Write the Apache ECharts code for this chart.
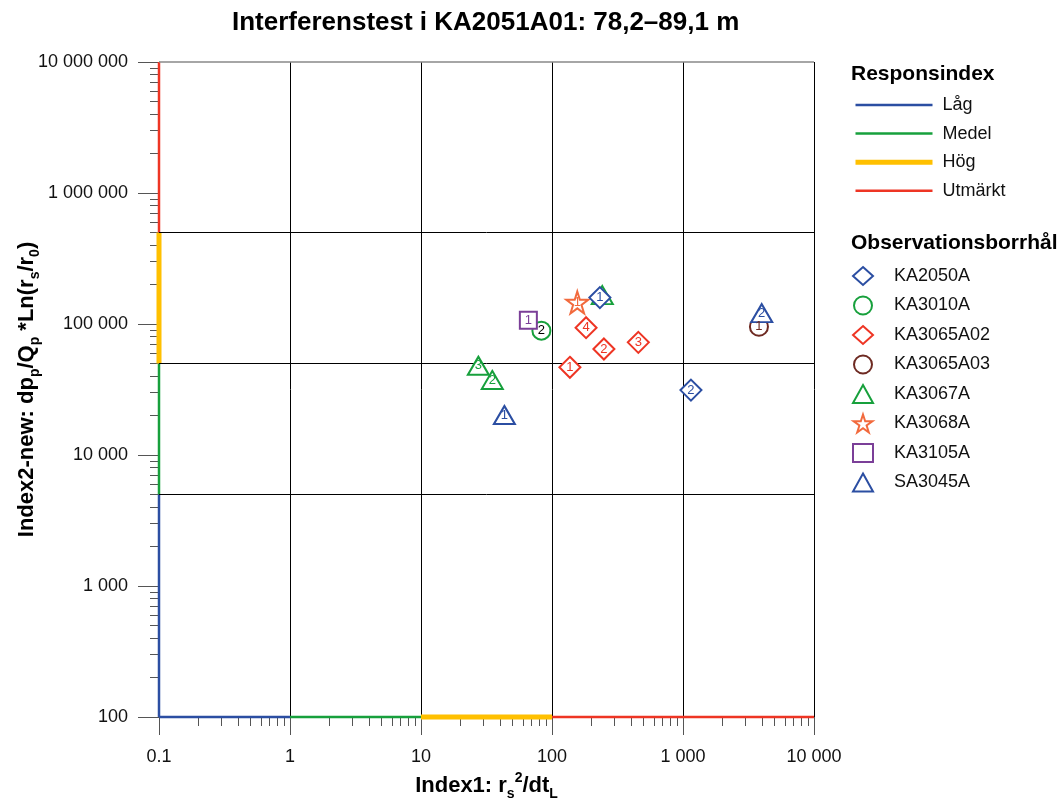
<!DOCTYPE html>
<html>
<head>
<meta charset="utf-8">
<script src="https://cdn.jsdelivr.net/npm/echarts@6/dist/echarts.min.js"></script>
<style>html,body{margin:0;padding:0;background:#fff}#c{width:1059px;height:801px}</style>
</head>
<body>
<div id="c"></div>
<script>
// ---- data ----
const titleText = 'Interferenstest i KA2051A01: 78,2–89,1 m';
const xTicks = [0.1, 1, 10, 100, 1000, 10000];
const yTicks = [100, 1000, 10000, 100000, 1000000, 10000000];
const classNames = ['Låg', 'Medel', 'Hög', 'Utmärkt'];
const classColors = ['#2B4EA2', '#17A03C', '#FFC000', '#EE3524'];
const classWidths = [2.5, 2.5, 5, 2.5];
const xBreaks = [0.1, 1, 10, 100, 10000];          // Index1 class limits
const yBreaks = [100, 5000, 50000, 500000, 10000000]; // Index2 class limits
const hLines = [5000, 50000, 500000];

const boreholes = ['KA2050A', 'KA3010A', 'KA3065A02', 'KA3065A03', 'KA3067A', 'KA3068A', 'KA3105A', 'SA3045A'];
const KA2050A   = [[232, 159000, '1'], [1150, 31300, '2']];
const KA3010A   = [[83, 89000, '2']];
const KA3065A02 = [[137, 46700, '1'], [249, 64400, '2'], [456, 72400, '3'], [182, 93700, '4']];
const KA3065A03 = [[3800, 95300, '1']];
const KA3067A   = [[242, 166000, '4'], [35, 37400, '2'], [27.4, 48000, '3']];
const KA3068A   = [[156, 146000, '1']];
const KA3105A   = [[66, 107000, '1']];
const SA3045A   = [[43.3, 20200, '1'], [3990, 121000, '2']];

// ---- styling ----
const FONT = 'Liberation Sans, Arial, Helvetica, sans-serif';
const star = 'path://M50,2 L61,36 L97,36 L68,57 L79,92 L50,71 L21,92 L32,57 L3,36 L39,36 Z';
const pointStyle = {
  KA2050A:   {data: KA2050A,   color: '#2B4EA2', symbol: 'diamond',  size: 21, label: '#2B4EA2', z: 6},
  KA3010A:   {data: KA3010A,   color: '#17A03C', symbol: 'circle',   size: 18, label: '#000000', z: 5},
  KA3065A02: {data: KA3065A02, color: '#EE3524', symbol: 'diamond',  size: 21, label: '#EE3524', z: 5},
  KA3065A03: {data: KA3065A03, color: '#6E2A22', symbol: 'circle',   size: 18, label: '#6E2A22', z: 5},
  KA3067A:   {data: KA3067A,   color: '#17A03C', symbol: 'triangle', size: [21, 18], label: '#17A03C', z: 5},
  KA3068A:   {data: KA3068A,   color: '#F26A3D', symbol: star,       size: 22, label: '#F26A3D', z: 5},
  KA3105A:   {data: KA3105A,   color: '#7B3F98', symbol: 'rect',     size: 17, label: '#7B3F98', z: 5},
  SA3045A:   {data: SA3045A,   color: '#2B4EA2', symbol: 'triangle', size: [21, 18], label: '#2B4EA2', z: 5}
};

function fmt(v) {
  v = Number(Number(v).toPrecision(6));
  if (v < 1) return String(v);
  return String(Math.round(v)).replace(/\B(?=(\d{3})+(?!\d))/g, ' ');
}
function minorLog(lo, hi) {
  const out = [];
  for (let d = lo; d < hi; d++) for (let k = 2; k <= 9; k++) out.push(d + Math.log10(k));
  return out;
}

const series = [];
classNames.forEach((n, i) => {
  const common = {
    name: n, type: 'line', symbol: 'none', clip: false, silent: true, z: 3,
    lineStyle: {color: classColors[i], width: classWidths[i]}, itemStyle: {color: 'rgba(0,0,0,0)', opacity: 0}
  };
  series.push(Object.assign({}, common, {data: [[xBreaks[0], yBreaks[i]], [xBreaks[0], yBreaks[i + 1]]]}));
  series.push(Object.assign({}, common, {data: [[xBreaks[i], yBreaks[0]], [xBreaks[i + 1], yBreaks[0]]]}));
});
series.push({
  type: 'line', data: [], silent: true, z: 1,
  markLine: {
    silent: true, symbol: 'none', label: {show: false},
    data: hLines.map(v => ({yAxis: v, lineStyle: {color: '#000', width: 1, type: 'solid'}}))
      .concat([{yAxis: yTicks[yTicks.length - 1], lineStyle: {color: '#888', width: 1.5, type: 'solid'}}])
  }
});
boreholes.forEach(b => {
  const s = pointStyle[b];
  series.push({
    name: b, type: 'scatter', data: s.data, symbol: s.symbol, symbolSize: s.size, z: s.z,
    itemStyle: {color: '#ffffff', borderColor: s.color, borderWidth: 2, opacity: 1},
    label: {show: true, position: 'inside', formatter: p => p.value[2], color: s.label, fontSize: 13, fontFamily: FONT}
  });
});

const nameRich = {
  b: {fontSize: 22, fontWeight: 'bold', lineHeight: 30, verticalAlign: 'middle', fontFamily: FONT, color: '#000'},
  sub: {fontSize: 14, fontWeight: 'bold', lineHeight: 14, verticalAlign: 'bottom', fontFamily: FONT, color: '#000'},
  sup: {fontSize: 14, fontWeight: 'bold', lineHeight: 14, verticalAlign: 'top', fontFamily: FONT, color: '#000'}
};

const chart = echarts.init(document.getElementById('c'), null, {renderer: 'canvas'});
chart.setOption({
  animation: false,
  backgroundColor: '#ffffff',
  textStyle: {fontFamily: FONT},
  title: [
    {text: titleText, left: 232, top: 10, padding: 0, textStyle: {fontSize: 26, fontWeight: 'bold', color: '#000', fontFamily: FONT}},
    {text: 'Responsindex', left: 851, top: 64, padding: 0, textStyle: {fontSize: 21, fontWeight: 'bold', color: '#000', fontFamily: FONT}},
    {text: 'Observationsborrhål', left: 851, top: 233, padding: 0, textStyle: {fontSize: 21, fontWeight: 'bold', color: '#000', fontFamily: FONT}}
  ],
  legend: [
    {
      data: classNames.map((n, i) => ({name: n, itemStyle: {opacity: 0}, lineStyle: {color: classColors[i], width: classWidths[i]}})),
      orient: 'vertical', left: 853, top: 96, padding: 0, itemWidth: 77, itemHeight: 14, itemGap: 10.6,
      selectedMode: false, itemStyle: {opacity: 0},
      textStyle: {fontSize: 18, lineHeight: 14, color: '#111', fontFamily: FONT, padding: [0, 0, 0, 5]}
    },
    {
      data: boreholes, orient: 'vertical', left: 852, top: 266, padding: 0, itemWidth: 20, itemHeight: 18, itemGap: 9.5,
      selectedMode: false,
      textStyle: {fontSize: 18, lineHeight: 18, color: '#111', fontFamily: FONT, padding: [0, 0, 0, 16]}
    }
  ],
  grid: {left: 159, right: 245, top: 62, bottom: 84, containLabel: false, outerBoundsMode: 'none'},
  xAxis: [
    {
      type: 'log', logBase: 10, min: xTicks[0], max: xTicks[xTicks.length - 1], position: 'bottom',
      name: '{b|Index1: r}{sub|s}{sup|2}{b|/dt}{sub|L}', nameLocation: 'middle', nameGap: 54, nameMoveOverlap: false,
      nameTextStyle: {fontFamily: FONT, color: '#000', rich: nameRich},
      axisLine: {show: true, onZero: false, lineStyle: {color: '#666', width: 1}},
      axisTick: {show: true, length: 18, lineStyle: {color: '#555', width: 1}},
      axisLabel: {formatter: fmt, fontSize: 18, color: '#111', margin: 31, fontFamily: FONT},
      splitLine: {show: true, lineStyle: {color: '#000', width: 1}}
    },
    {
      type: 'value', min: Math.log10(xTicks[0]), max: Math.log10(xTicks[xTicks.length - 1]), position: 'bottom',
      axisLine: {show: false, onZero: false}, axisLabel: {show: false}, splitLine: {show: false},
      axisTick: {show: true, length: 9, customValues: minorLog(-1, 4), lineStyle: {color: '#555', width: 1}}
    }
  ],
  yAxis: [
    {
      type: 'log', logBase: 10, min: yTicks[0], max: yTicks[yTicks.length - 1], position: 'left',
      name: '{b|Index2-new: dp}{sub|p}{b|/Q}{sub|p}{b| *Ln(r}{sub|s}{b|/r}{sub|0}{b|)}',
      nameLocation: 'middle', nameRotate: 90, nameGap: 117, nameMoveOverlap: false,
      nameTextStyle: {fontFamily: FONT, color: '#000', rich: nameRich},
      axisLine: {show: true, onZero: false, lineStyle: {color: '#666', width: 1}},
      axisTick: {show: true, length: 21, lineStyle: {color: '#555', width: 1}},
      axisLabel: {formatter: fmt, fontSize: 18, color: '#111', margin: 31, fontFamily: FONT},
      splitLine: {show: false}
    },
    {
      type: 'value', min: Math.log10(yTicks[0]), max: Math.log10(yTicks[yTicks.length - 1]), position: 'left',
      axisLine: {show: false, onZero: false}, axisLabel: {show: false}, splitLine: {show: false},
      axisTick: {show: true, length: 9, customValues: minorLog(2, 7), lineStyle: {color: '#555', width: 1}}
    }
  ],
  series: series
});
</script>
</body>
</html>
